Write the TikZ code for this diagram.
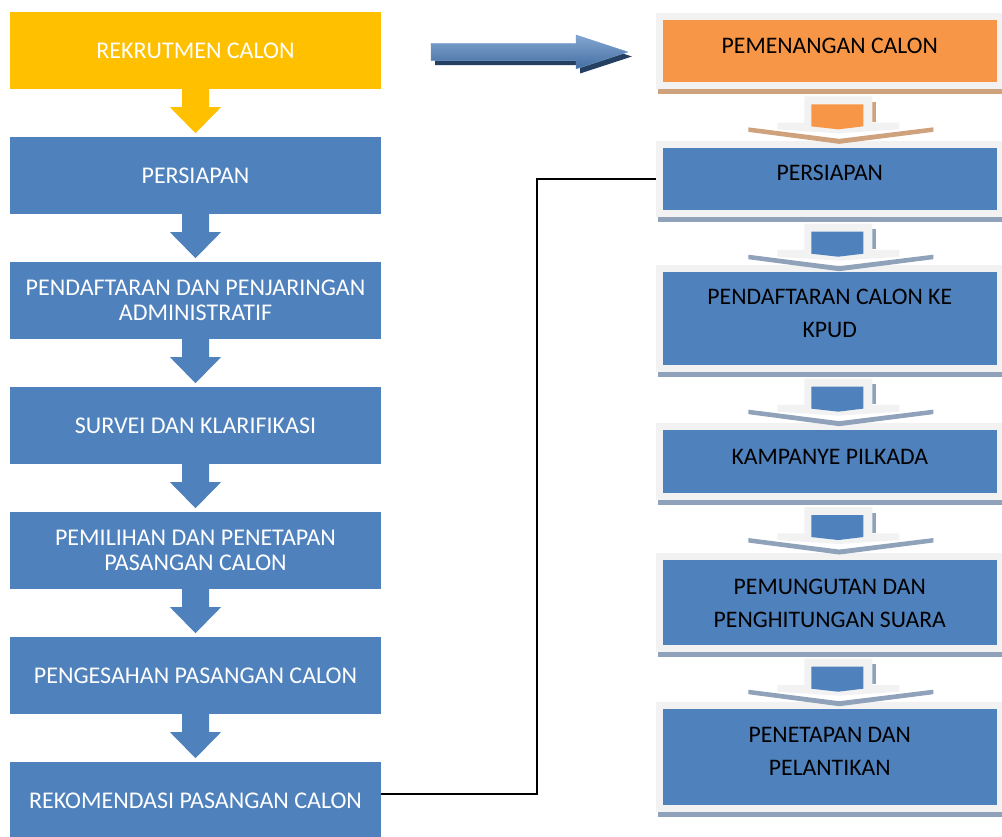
\documentclass[tikz,border=0pt]{standalone}
\usepackage{fontspec}
\setmainfont{Carlito}
\usetikzlibrary{calc}
\definecolor{flowblue}{HTML}{4F81BD}
\definecolor{recruitcolor}{HTML}{FFC000}
\definecolor{wincolor}{HTML}{F79646}
\definecolor{framegray}{HTML}{F2F2F2}
\definecolor{tanshade}{HTML}{CFA27E}
\definecolor{blueshade}{HTML}{8FA2BA}
\definecolor{navyshade}{HTML}{243F60}
\tikzset{
  flow left/.style={fill=flowblue,text=white,minimum width=371pt,minimum height=77pt,
    inner sep=0pt,align=center,font=\fontsize{24}{25}\selectfont},
  flow right/.style={fill=flowblue,draw=framegray,line width=7pt,outer sep=3.5pt,
    minimum width=340.5pt,inner sep=0pt},
  flow text/.style={text=black,inner sep=0pt,align=center,font=\fontsize{23.7}{33}\selectfont},
  flow link/.style={black,line width=2pt}
}

\begin{document}
\begin{tikzpicture}[x=1pt,y=-1pt]
  \useasboundingbox (0,0) rectangle (1002,837);
  % left column
  \node[flow left,fill=recruitcolor] (l1) at (195.5,50.5) {REKRUTMEN CALON};
  \node[flow left] (l2) at (195.5,175.5) {PERSIAPAN};
  \node[flow left] (l3) at (195.5,300.5) {PENDAFTARAN DAN PENJARINGAN\\ADMINISTRATIF};
  \node[flow left] (l4) at (195.5,425.5) {SURVEI DAN KLARIFIKASI};
  \node[flow left] (l5) at (195.5,550.5) {PEMILIHAN DAN PENETAPAN\\PASANGAN CALON};
  \node[flow left] (l6) at (195.5,675.5) {PENGESAHAN PASANGAN CALON};
  \node[flow left] (l7) at (195.5,800.5) {REKOMENDASI PASANGAN CALON};
  \foreach \a/\c in {l1/recruitcolor,l2/flowblue,l3/flowblue,l4/flowblue,l5/flowblue,l6/flowblue}{
    \fill[\c] (\a.south) +(-13.5,-1) -- +(-13.5,18) -- +(-25.5,18) -- +(0,44)
      -- +(25.5,18) -- +(13.5,18) -- +(13.5,-1) -- cycle;
  }
  % big arrow
  \fill[navyshade,shift={(4,4.5)}] (431,43.3) -- (576,43.3) -- (576,35) -- (628,52)
    -- (576,69) -- (576,60.7) -- (431,60.7) -- cycle;
  \shade[top color=flowblue!70!white,bottom color=flowblue!85!black,draw=flowblue!80!white,thin]
    (431,43.3) -- (576,43.3) -- (576,35) -- (628,52) -- (576,69) -- (576,60.7) -- (431,60.7) -- cycle;
  % right column
  \node[flow right,fill=wincolor,minimum height=69.3pt] (r1) at (829.75,51.2) {};
  \node[flow right,minimum height=69pt] (r2) at (829.75,178.7) {};
  \node[flow right,minimum height=99.7pt] (r3) at (829.75,318.3) {};
  \node[flow right,minimum height=69.7pt] (r4) at (829.75,461.7) {};
  \node[flow right,minimum height=91.4pt] (r5) at (829.75,602.5) {};
  \node[flow right,minimum height=103pt] (r6) at (829.75,757.3) {};
  \node[flow text] (t1) at ([yshift=5.5pt]r1) {PEMENANGAN CALON};
  \node[flow text] (t2) at ([yshift=5.7pt]r2) {PERSIAPAN};
  \node[flow text] (t3) at ([yshift=4.8pt]r3) {PENDAFTARAN CALON KE\\KPUD};
  \node[flow text] (t4) at ([yshift=5pt]r4) {KAMPANYE PILKADA};
  \node[flow text] (t5) at ([yshift=-1pt]r5) {PEMUNGUTAN DAN\\PENGHITUNGAN SUARA};
  \node[flow text] (t6) at ([yshift=5.8pt]r6) {PENETAPAN DAN\\PELANTIKAN};
  \foreach \b/\s in {r1/tanshade,r2/blueshade,r3/blueshade,r4/blueshade,r5/blueshade,r6/blueshade}{
    \fill[\s] ($(\b.south west)+(2,0)$) rectangle ($(\b.south east)+(0,5)$);
  }
  \foreach \a/\c/\s in {r1/wincolor/tanshade,r2/flowblue/blueshade,r3/flowblue/blueshade,
      r4/flowblue/blueshade,r5/flowblue/blueshade}{
    \begin{scope}[shift={($(\a.south)+(7.5,7)$)}]
      \fill[\s] (-89,31) -- (2,42.5) -- (96,31) -- (96,35.5) -- (2,47.5) -- (-89,35.5) -- cycle;
      \fill[\s] (35,5.5) rectangle (38.5,25.5);
      \fill[framegray] (-33,0) -- (35,0) -- (35,26.3) -- (62,26.3) -- (62,33) -- (1,37)
        -- (-60,33) -- (-60,26.3) -- (-33,26.3) -- cycle;
      \fill[\c] (-26,8) -- (26,8) -- (26,30) -- (1,33) -- (-26,30) -- cycle;
    \end{scope}
  }
  % link between the columns
  \draw[flow link] ([yshift=7pt]l7.east) -- ++(156,0) |- (r2.west);
\end{tikzpicture}
\end{document}
